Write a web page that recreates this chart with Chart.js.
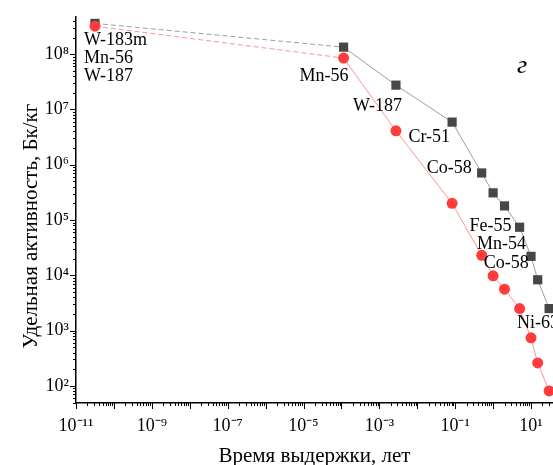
<!DOCTYPE html>
<html>
<head>
<meta charset="utf-8">
<script src="https://cdn.jsdelivr.net/npm/chart.js@4"></script>
<style>
    body { margin: 0; background: #fff; }
    canvas { display: block; }
</style>
</head>
<body>
<canvas id="decayChart" width="553" height="465"></canvas>
<script>
// cooling time, years (1 ms, 1 h, 1 d, 1 month, 0.5 y ... 30 y)
const years = [3.17e-11, 1.14e-4, 2.74e-3, 0.083, 0.5, 1, 2, 5, 10, 15, 30];
// specific activity, Bq/kg
const activityGray = [3.6e8, 1.34e8, 2.75e7, 5.9e6, 7.1e5, 3.1e5, 1.8e5, 7.4e4, 2.2e4, 8.3e3, 2.5e3];
const activityRed = [3.2e8, 8.5e7, 4.1e6, 2.0e5, 2.3e4, 9.8e3, 5.6e3, 2.5e3, 7.4e2, 2.6e2, 81];

const xTickExps = [-11, -10, -9, -8, -7, -6, -5, -4, -3, -2, -1, 0, 1];
const xLabelExps = [-11, -9, -7, -5, -3, -1, 1];
const yTickExps = [2, 3, 4, 5, 6, 7, 8];

// nuclide labels: [text, dataset, point index, dx, dy, align]
const nuclideLabels = [
    ['W-183m', 0, 0, -11, 14, 'left'],
    ['Mn-56', 0, 0, -11, 32, 'left'],
    ['W-187', 0, 0, -11, 50, 'left'],
    ['Mn-56', 0, 1, 5, 18, 'right'],
    ['W-187', 0, 2, 6, -25, 'right'],
    ['Cr-51', 1, 3, -2, 15, 'right'],
    ['Co-58', 1, 4, -10, -5, 'right'],
    ['Fe-55', 1, 7, -8, -1, 'right'],
    ['Mn-54', 1, 8, -5, -12, 'right'],
    ['Co-58', 1, 9, -9, -17, 'right'],
    ['Ni-63', 1, 10, -32, 15, 'left']
];

const SERIF = '"Liberation Serif", "Times New Roman", serif';

function sup(n) {
    const map = {'-': '\u207B', '0': '\u2070', '1': '\u00B9', '2': '\u00B2', '3': '\u00B3',
        '4': '\u2074', '5': '\u2075', '6': '\u2076', '7': '\u2077', '8': '\u2078', '9': '\u2079'};
    return String(n).split('').map(c => map[c]).join('');
}

function toPoints(ys) {
    return years.map((x, i) => ({x: x, y: ys[i]}));
}

const firstDashed = ctx => ctx.p0DataIndex === 0 ? [5, 3] : undefined;

// minor + major tick marks pointing outward
const tickMarks = {
    id: 'tickMarks',
    afterDraw(chart) {
        const ctx = chart.ctx;
        const xs = chart.scales.x, ys = chart.scales.y;
        const area = chart.chartArea;
        ctx.save();
        ctx.strokeStyle = '#000';
        ctx.lineWidth = 1;
        ctx.beginPath();
        for (let e = -12; e <= 2; e++) {
            for (let m = 1; m <= 9; m++) {
                const v = m * Math.pow(10, e);
                if (v < xs.min * 0.999 || v > xs.max) continue;
                const px = Math.round(xs.getPixelForValue(v)) + 0.5;
                ctx.moveTo(px, area.bottom);
                ctx.lineTo(px, area.bottom + (m === 1 ? 6 : 3));
            }
        }
        for (let e = 1; e <= 9; e++) {
            for (let m = 1; m <= 9; m++) {
                const v = m * Math.pow(10, e);
                if (v < ys.min || v > ys.max) continue;
                const py = Math.round(ys.getPixelForValue(v)) + 0.5;
                ctx.moveTo(area.left, py);
                ctx.lineTo(area.left - (m === 1 ? 6 : 3), py);
            }
        }
        ctx.stroke();
        ctx.restore();
    }
};

const textLayer = {
    id: 'textLayer',
    afterDatasetsDraw(chart) {
        const ctx = chart.ctx;
        const area = chart.chartArea;
        ctx.save();
        ctx.fillStyle = '#000';
        ctx.textBaseline = 'middle';
        ctx.font = '18px ' + SERIF;
        nuclideLabels.forEach(([text, ds, idx, dx, dy, align]) => {
            const pt = chart.getDatasetMeta(ds).data[idx];
            ctx.textAlign = align;
            ctx.fillText(text, pt.x + dx, pt.y + dy);
        });

        // panel letter
        ctx.font = 'italic 26px ' + SERIF;
        ctx.textAlign = 'center';
        ctx.fillText('г', 522, 66);

        // axis titles
        ctx.font = '21px ' + SERIF;
        ctx.fillText('Время выдержки, лет', (area.left + area.right) / 2, 456);
        ctx.translate(31, 226);
        ctx.rotate(-Math.PI / 2);
        ctx.fillText('Удельная активность, Бк/кг', 0, 0);
        ctx.restore();
    }
};

new Chart(document.getElementById('decayChart'), {
    type: 'line',
    data: {
        datasets: [{
            label: 'red',
            data: toPoints(activityRed),
            borderColor: '#ff7777',
            borderWidth: 0.8,
            pointStyle: 'circle',
            pointRadius: 5.5,
            pointBackgroundColor: '#ff3b3b',
            pointBorderColor: '#ff3b3b',
            pointBorderWidth: 0,
            segment: { borderDash: firstDashed },
            clip: false
        }, {
            label: 'gray',
            data: toPoints(activityGray),
            borderColor: '#858585',
            borderWidth: 0.8,
            pointStyle: 'rect',
            pointRadius: 6.5,
            pointBackgroundColor: '#474747',
            pointBorderColor: '#474747',
            pointBorderWidth: 0,
            segment: { borderDash: firstDashed },
            clip: false
        }]
    },
    options: {
        responsive: false,
        animation: false,
        layout: { autoPadding: false, padding: { top: 17, right: 0, left: 0, bottom: 0 } },
        plugins: {
            legend: { display: false },
            tooltip: { enabled: false }
        },
        scales: {
            x: {
                type: 'logarithmic',
                min: 1e-11,
                max: 38,
                afterBuildTicks: scale => {
                    scale.ticks = xTickExps.map(e => ({value: Math.pow(10, e)}));
                },
                afterFit: scale => {
                    scale.height = 62;
                    scale.paddingLeft = 0;
                    scale.paddingRight = 0;
                },
                grid: { display: false, drawTicks: false },
                border: { display: true, color: '#000', width: 1.5 },
                ticks: {
                    autoSkip: false,
                    maxRotation: 0,
                    padding: 12,
                    color: '#000',
                    font: { family: SERIF, size: 18 },
                    callback: value => {
                        const e = Math.round(Math.log10(value));
                        return xLabelExps.includes(e) ? '10' + sup(e) : '';
                    }
                }
            },
            y: {
                type: 'logarithmic',
                min: 49,
                max: 4.7e8,
                afterBuildTicks: scale => {
                    scale.ticks = yTickExps.map(e => ({value: Math.pow(10, e)}));
                },
                afterFit: scale => {
                    scale.width = 76;
                    scale.paddingTop = 0;
                    scale.paddingBottom = 0;
                },
                grid: { display: false, drawTicks: false },
                border: { display: true, color: '#000', width: 1.5 },
                ticks: {
                    autoSkip: false,
                    padding: 7,
                    color: '#000',
                    font: { family: SERIF, size: 18 },
                    callback: value => '10' + sup(Math.round(Math.log10(value)))
                }
            }
        }
    },
    plugins: [tickMarks, textLayer]
});
</script>
</body>
</html>
